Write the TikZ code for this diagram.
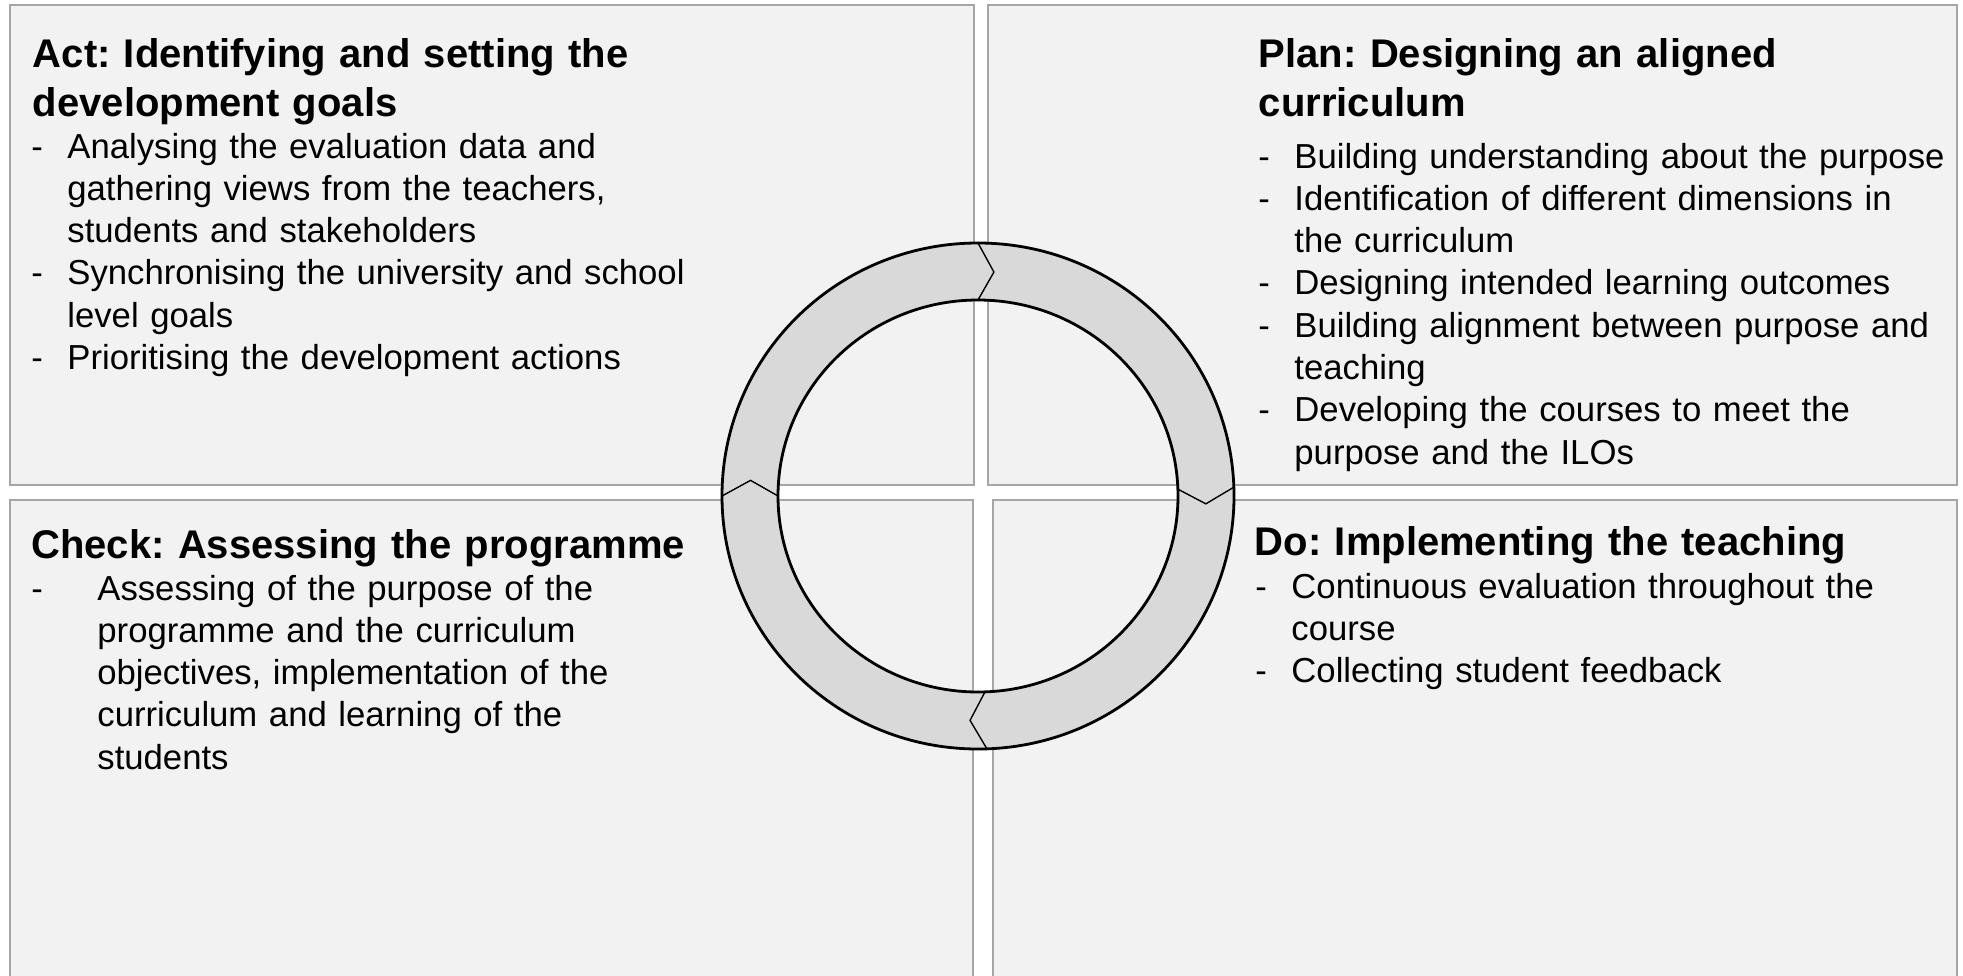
\documentclass[tikz,border=0pt]{standalone}
\usepackage{fontspec}
\setmainfont{Liberation Sans}
\usepackage{tikz}
\definecolor{panelfill}{HTML}{F2F2F2}
\definecolor{panelline}{HTML}{A6A6A6}
\definecolor{ringfill}{HTML}{D9D9D9}
\tikzset{
	panel/.style={fill=panelfill,draw=panelline,line width=1.4pt},
	heading/.style={anchor=base west,inner sep=0pt,align=left,text width=480pt,font=\frenchspacing\bfseries\fontsize{20pt}{24.5pt}\selectfont},
	itemlist/.style={anchor=base west,inner sep=0pt,text width=480pt,font=\frenchspacing\fontsize{17.35pt}{21.15pt}\selectfont},
}
% one dashed entry of a list, hanging indent after the dash
\newcommand{\dashitem}[2][18pt]{\hangindent=#1\hangafter=1\noindent\makebox[#1][l]{-}#2\par}

\begin{document}
\begin{tikzpicture}[x=0.5pt,y=-0.5pt]
	\useasboundingbox (0,0) rectangle (1963,975);
	\clip (0,0) rectangle (1963,975);
	
	% the four quarters of the cycle
	\draw[panel] (10,5) rectangle (974,485);
	\draw[panel] (988,5) rectangle (1957,485);
	\draw[panel] (10,500) rectangle (973,1000);
	\draw[panel] (993,500) rectangle (1957,1000);
	
	% Act
	\node[heading] (acttitle) at (32.5,67) {Act: Identifying and setting the\\development goals};
	\node[itemlist] (actlist) at (31,158) {%
		\dashitem{Analysing the evaluation data and\newline gathering views from the teachers,\newline students and stakeholders}%
		\dashitem{Synchronising the university and school\newline level goals}%
		\dashitem{Prioritising the development actions}};
	
	% Plan
	\node[heading] (plantitle) at (1258.5,67) {Plan: Designing an aligned\\curriculum};
	\node[itemlist] (planlist) at (1258,168) {%
		\dashitem{Building understanding about the purpose}%
		\dashitem{Identification of different dimensions in\newline the curriculum}%
		\dashitem{Designing intended learning outcomes}%
		\dashitem{Building alignment between purpose and\newline teaching}%
		\dashitem{Developing the courses to meet the\newline purpose and the ILOs}};
	
	% Check
	\node[heading] (checktitle) at (31,558) {Check: Assessing the programme};
	\node[itemlist] (checklist) at (31,600) {%
		\dashitem[33pt]{Assessing of the purpose of the\newline programme and the curriculum\newline objectives, implementation of the\newline curriculum and learning of the\newline students}};
	
	% Do
	\node[heading] (dotitle) at (1254.5,555) {Do: Implementing the teaching};
	\node[itemlist] (dolist) at (1255,598) {%
		\dashitem{Continuous evaluation throughout the\newline course}%
		\dashitem{Collecting student feedback}};
	
	% ring with four arrow parts, on top of the quarters
	\begin{scope}[shift={(978,496)},y=0.5pt]
		\fill[ringfill,even odd rule] (0,0) ellipse[x radius=256,y radius=253] (0,0) ellipse[x radius=200,y radius=196];
		\draw[line width=1.4pt] (0,0) ellipse[x radius=256,y radius=253];
		\draw[line width=1.4pt] (0,0) ellipse[x radius=200,y radius=196];
		% chevron joints, pointing clockwise
		\foreach \a in {90,2,-88,180}
			\draw[line width=0.7pt] (\a:256 and 253) -- (\a-4:228 and 224.5) -- (\a:200 and 196);
	\end{scope}
\end{tikzpicture}
\end{document}
